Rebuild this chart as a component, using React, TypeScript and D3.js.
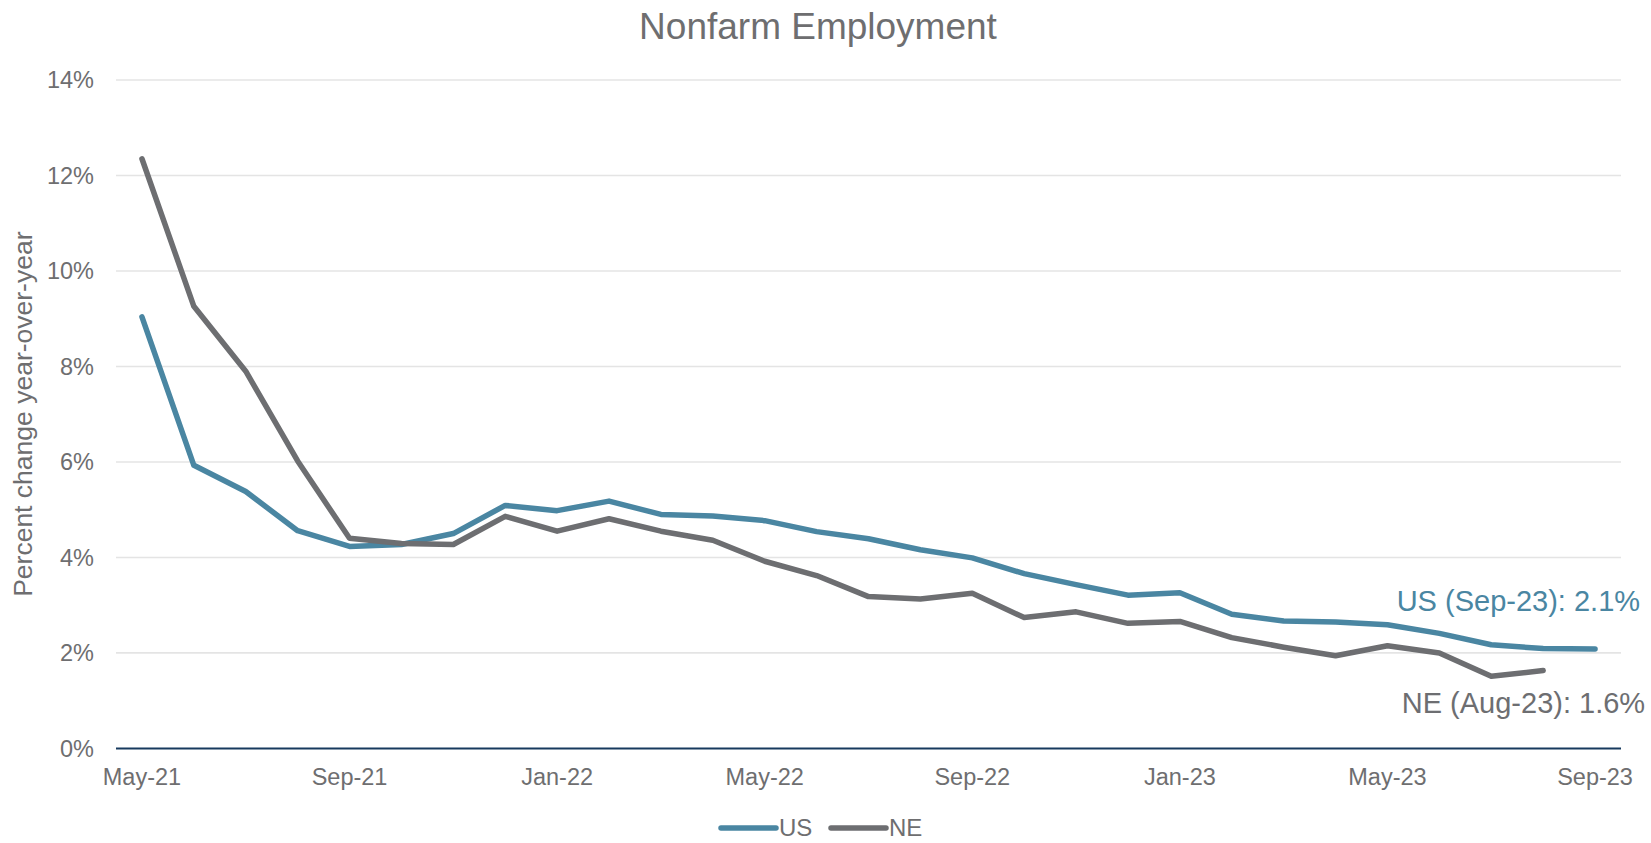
import React, { useRef, useEffect } from 'react';
import * as d3 from 'd3';

// Monthly, May-21 .. Sep-23
const months = [
  'May-21', 'Jun-21', 'Jul-21', 'Aug-21', 'Sep-21', 'Oct-21', 'Nov-21', 'Dec-21',
  'Jan-22', 'Feb-22', 'Mar-22', 'Apr-22', 'May-22', 'Jun-22', 'Jul-22', 'Aug-22',
  'Sep-22', 'Oct-22', 'Nov-22', 'Dec-22', 'Jan-23', 'Feb-23', 'Mar-23', 'Apr-23',
  'May-23', 'Jun-23', 'Jul-23', 'Aug-23', 'Sep-23'
];

// percent change year-over-year
const usValues = [
  9.04, 5.93, 5.38, 4.56, 4.23, 4.27, 4.50, 5.09, 4.98, 5.18, 4.90, 4.87, 4.77,
  4.54, 4.39, 4.16, 3.99, 3.66, 3.43, 3.21, 3.26, 2.81, 2.67, 2.65, 2.59, 2.41,
  2.17, 2.09, 2.08
];

const neValues = [
  12.35, 9.26, 7.90, 6.02, 4.40, 4.29, 4.27, 4.86, 4.55, 4.81, 4.55, 4.36, 3.92,
  3.62, 3.18, 3.13, 3.25, 2.74, 2.86, 2.62, 2.66, 2.32, 2.12, 1.94, 2.15, 2.00,
  1.51, 1.63
];

const yTicks = [0, 2, 4, 6, 8, 10, 12, 14];
const xTickLabels = ['May-21', 'Sep-21', 'Jan-22', 'May-22', 'Sep-22', 'Jan-23', 'May-23', 'Sep-23'];

const US_COLOR = '#4A86A2';
const NE_COLOR = '#6D6E71';
const TEXT_COLOR = '#6E6E70';
const FONT = '"Liberation Sans", Arial, sans-serif';

const width = 1651;
const height = 843;
const margin = { top: 80, right: 30, bottom: 95, left: 116 };

const Chart: React.FC = () => {
  const svgRef = useRef<SVGSVGElement | null>(null);

  useEffect(() => {
    if (!svgRef.current) return;
    const svg = d3.select(svgRef.current);
    svg.selectAll('*').remove();

    const innerBottom = height - margin.bottom;

    const x = d3.scaleBand<string>()
      .domain(months)
      .range([margin.left, width - margin.right]);
    const cx = (m: string) => (x(m) as number) + x.bandwidth() / 2;

    const y = d3.scaleLinear()
      .domain([0, 14])
      .range([innerBottom + 0.4, margin.top]);

    // title
    svg.append('text')
      .attr('x', 818)
      .attr('y', 39)
      .attr('text-anchor', 'middle')
      .attr('font-size', 37)
      .attr('fill', TEXT_COLOR)
      .text('Nonfarm Employment');

    // gridlines
    svg.append('g')
      .selectAll('line')
      .data(yTicks.filter(t => t > 0))
      .join('line')
      .attr('x1', margin.left)
      .attr('x2', width - margin.right)
      .attr('y1', d => y(d))
      .attr('y2', d => y(d))
      .attr('stroke', '#E4E4E4')
      .attr('stroke-width', 1.6);

    // y labels
    svg.append('g')
      .selectAll('text')
      .data(yTicks)
      .join('text')
      .attr('x', 94)
      .attr('y', d => y(d))
      .attr('dy', '0.35em')
      .attr('text-anchor', 'end')
      .attr('font-size', 23.5)
      .attr('fill', TEXT_COLOR)
      .text(d => `${d}%`);

    // y axis title
    svg.append('text')
      .attr('transform', `translate(32,${(y(0) + y(14)) / 2}) rotate(-90)`)
      .attr('text-anchor', 'middle')
      .attr('font-size', 26.5)
      .attr('fill', TEXT_COLOR)
      .text('Percent change year-over-year');

    // zero axis
    svg.append('line')
      .attr('x1', margin.left)
      .attr('x2', width - margin.right)
      .attr('y1', y(0))
      .attr('y2', y(0))
      .attr('stroke', '#173A5E')
      .attr('stroke-width', 2);

    // x labels
    svg.append('g')
      .selectAll('text')
      .data(xTickLabels)
      .join('text')
      .attr('x', d => cx(d))
      .attr('y', y(0) + 37)
      .attr('text-anchor', 'middle')
      .attr('font-size', 23.5)
      .attr('fill', TEXT_COLOR)
      .text(d => d);

    const line = d3.line<number>()
      .x((_, i) => cx(months[i]))
      .y(d => y(d));

    svg.append('path')
      .datum(usValues)
      .attr('fill', 'none')
      .attr('stroke', US_COLOR)
      .attr('stroke-width', 5.5)
      .attr('stroke-linejoin', 'round')
      .attr('stroke-linecap', 'round')
      .attr('d', line);

    svg.append('path')
      .datum(neValues)
      .attr('fill', 'none')
      .attr('stroke', NE_COLOR)
      .attr('stroke-width', 5.5)
      .attr('stroke-linejoin', 'round')
      .attr('stroke-linecap', 'round')
      .attr('d', line);

    // end labels
    const usLast = usValues[usValues.length - 1];
    const neLast = neValues[neValues.length - 1];
    svg.append('text')
      .attr('x', cx(months[usValues.length - 1]) + 45)
      .attr('y', y(usLast) - 38)
      .attr('text-anchor', 'end')
      .attr('font-size', 29)
      .attr('fill', US_COLOR)
      .text(`US (${months[usValues.length - 1]}): ${usLast.toFixed(1)}%`);

    svg.append('text')
      .attr('x', cx(months[neValues.length - 1]) + 102)
      .attr('y', y(neLast) + 42)
      .attr('text-anchor', 'end')
      .attr('font-size', 29)
      .attr('fill', NE_COLOR)
      .text(`NE (${months[neValues.length - 1]}): ${neLast.toFixed(1)}%`);

    // legend
    const legend = [
      { name: 'US', color: US_COLOR, x: 721 },
      { name: 'NE', color: NE_COLOR, x: 831 }
    ];
    const lg = svg.append('g');
    legend.forEach(l => {
      lg.append('line')
        .attr('x1', l.x)
        .attr('x2', l.x + 55)
        .attr('y1', 828)
        .attr('y2', 828)
        .attr('stroke', l.color)
        .attr('stroke-width', 5.5)
        .attr('stroke-linecap', 'round');
      lg.append('text')
        .attr('x', l.x + 58)
        .attr('y', 828)
        .attr('dy', '0.35em')
        .attr('font-size', 24)
        .attr('fill', TEXT_COLOR)
        .text(l.name);
    });
  }, []);

  return (
    <svg
      ref={svgRef}
      width={width}
      height={height}
      style={{ position: 'absolute', left: 0, top: 0, fontFamily: FONT, background: '#fff' }}
    />
  );
};

export default function App() {
  return <Chart />;
}
